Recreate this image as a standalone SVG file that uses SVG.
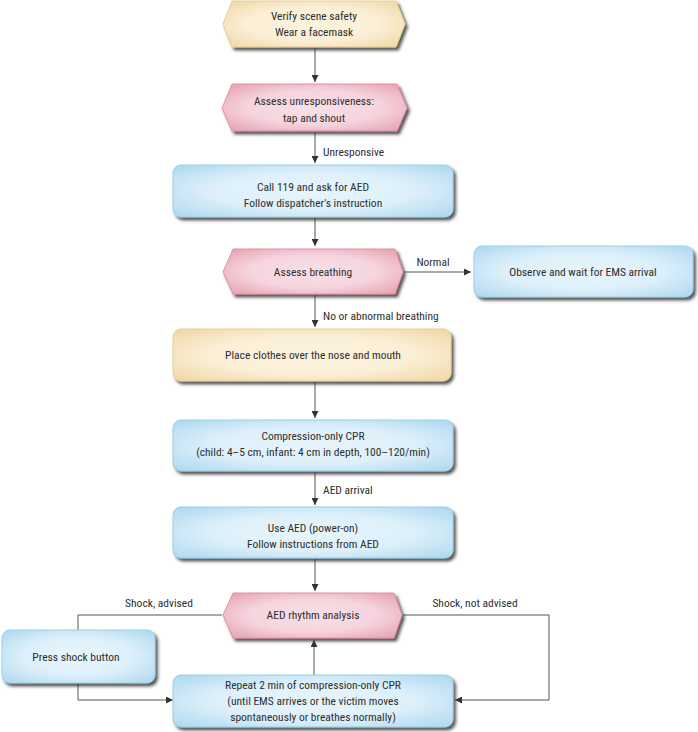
<svg xmlns="http://www.w3.org/2000/svg" width="698" height="732" viewBox="0 0 698 732">
<defs>
<radialGradient id="gBeige" cx="0.5" cy="0.5" r="0.72"><stop offset="0" stop-color="#fcf3de"/><stop offset="0.5" stop-color="#fbefd6"/><stop offset="1" stop-color="#eed5a0"/></radialGradient>
<radialGradient id="gPink" cx="0.5" cy="0.5" r="0.72"><stop offset="0" stop-color="#f8e0e7"/><stop offset="0.5" stop-color="#f5d4de"/><stop offset="1" stop-color="#e599aa"/></radialGradient>
<radialGradient id="gBlue" cx="0.5" cy="0.5" r="0.72"><stop offset="0" stop-color="#e8f5fb"/><stop offset="0.5" stop-color="#ddf0fa"/><stop offset="1" stop-color="#a9d6ee"/></radialGradient>
<filter id="sh" x="-10%" y="-20%" width="125%" height="150%"><feDropShadow dx="2.5" dy="3" stdDeviation="1.6" flood-color="#333" flood-opacity="0.8"/></filter>
<marker id="ah" viewBox="0 0 10 10" refX="10" refY="5" markerWidth="7" markerHeight="7" markerUnits="userSpaceOnUse" orient="auto"><path d="M0,0 L10,5 L0,10 z" fill="#333"/></marker>
</defs>
<style>
text{font-family:"Liberation Sans Narrow","Roboto Condensed","DejaVu Sans Condensed","Liberation Sans",sans-serif;font-size:11.5px;fill:#2e2e2e;text-anchor:middle}
.lbl{text-anchor:start}
.beige{fill:url(#gBeige);stroke:#e9cf98;stroke-width:1;filter:url(#sh)}
.pink{fill:url(#gPink);stroke:#df92a3;stroke-width:1;filter:url(#sh)}
.blue{fill:url(#gBlue);stroke:#9bcfe8;stroke-width:1;filter:url(#sh)}
.ln{fill:none;stroke:#555;stroke-width:1}
.arr{fill:none;stroke:#555;stroke-width:1;marker-end:url(#ah)}
</style>
<rect width="698" height="732" fill="#ffffff"/>

<g id="connectors">
<line class="arr" x1="315" y1="48" x2="315" y2="82"/>
<line class="arr" x1="315" y1="132" x2="315" y2="163"/>
<text class="lbl" x="323" y="156">Unresponsive</text>
<line class="arr" x1="315" y1="218" x2="315" y2="246"/>
<line class="arr" x1="403" y1="272" x2="471" y2="272"/>
<text x="433" y="266">Normal</text>
<line class="arr" x1="315" y1="295" x2="315" y2="327"/>
<text class="lbl" x="323" y="320">No or abnormal breathing</text>
<line class="arr" x1="315" y1="382" x2="315" y2="418"/>
<line class="arr" x1="315" y1="472" x2="315" y2="505"/>
<text class="lbl" x="323" y="494">AED arrival</text>
<line class="arr" x1="315" y1="559" x2="315" y2="591"/>
<line class="arr" x1="314" y1="675" x2="314" y2="640"/>
<polyline class="ln" points="222,615 78,615 78,630"/>
<text x="159" y="607">Shock, advised</text>
<polyline class="arr" points="78,683 78,700 173,700"/>
<polyline class="arr" points="403,615 549,615 549,700 455,700"/>
<text x="475" y="607">Shock, not advised</text>
</g>

<g id="n1">
<polygon class="beige" points="232,1 396,1 405,24 396,47 232,47 223,24"/>
<text x="314" y="20">Verify scene safety</text>
<text x="314" y="36">Wear a facemask</text>
</g>
<g id="n2">
<polygon class="pink" points="232,84 397,84 407,108 397,131 232,131 222,108"/>
<text x="314" y="105">Assess unresponsiveness:</text>
<text x="314" y="122">tap and shout</text>
</g>
<g id="n3">
<rect class="blue" x="173" y="165" width="280" height="52" rx="8"/>
<text x="313" y="191">Call 119 and ask for AED</text>
<text x="313" y="207">Follow dispatcher's instruction</text>
</g>
<g id="n4">
<polygon class="pink" points="233,249 395,249 403,272 395,294 233,294 223,272"/>
<text x="313" y="276">Assess breathing</text>
</g>
<g id="n5">
<rect class="blue" x="474" y="246" width="219" height="51" rx="8"/>
<text x="583" y="276">Observe and wait for EMS arrival</text>
</g>
<g id="n6">
<rect class="beige" x="173" y="329" width="278" height="52" rx="8"/>
<text x="313" y="359">Place clothes over the nose and mouth</text>
</g>
<g id="n7">
<rect class="blue" x="173" y="420" width="280" height="51" rx="8"/>
<text x="313" y="440">Compression-only CPR</text>
<text x="313" y="456">(child: 4–5 cm, infant: 4 cm in depth, 100–120/min)</text>
</g>
<g id="n8">
<rect class="blue" x="173" y="507" width="280" height="51" rx="8"/>
<text x="313" y="532">Use AED (power-on)</text>
<text x="313" y="548">Follow instructions from AED</text>
</g>
<g id="n9">
<polygon class="pink" points="233,593 394,593 402,615 394,638 233,638 223,615"/>
<text x="313" y="619">AED rhythm analysis</text>
</g>
<g id="n10">
<rect class="blue" x="2" y="630" width="153" height="53" rx="8"/>
<text x="76" y="661">Press shock button</text>
</g>
<g id="n11">
<rect class="blue" x="173" y="675" width="280" height="52" rx="8"/>
<text x="313" y="689">Repeat 2 min of compression-only CPR</text>
<text x="313" y="705">(until EMS arrives or the victim moves</text>
<text x="313" y="721">spontaneously or breathes normally)</text>
</g>
</svg>
